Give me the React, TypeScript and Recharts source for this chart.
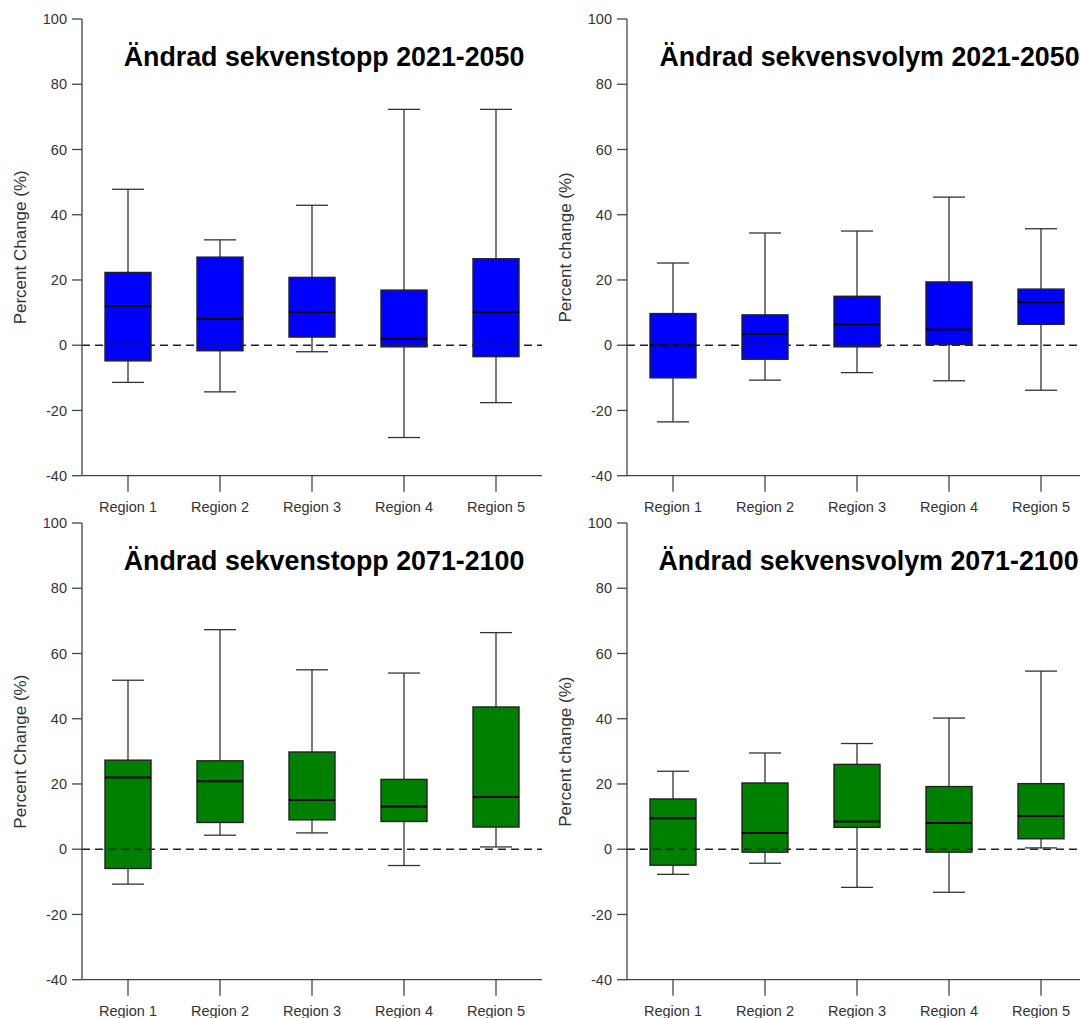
import React from "react";
import { ComposedChart, Bar, XAxis, YAxis, ReferenceLine } from "recharts";

const regions = ["Region 1", "Region 2", "Region 3", "Region 4", "Region 5"];
const yTicks = [-40, -20, 0, 20, 40, 60, 80, 100];

// Ändrad sekvenstopp 2021-2050
const topp2050Min = [-11.4, -14.3, -2.0, -28.3, -17.6];
const topp2050Q1 = [-4.8, -1.7, 2.5, -0.5, -3.5];
const topp2050Med = [12.0, 8.0, 10.2, 2.0, 10.2];
const topp2050Q3 = [22.3, 27.0, 20.8, 16.9, 26.5];
const topp2050Max = [47.8, 32.3, 42.9, 72.3, 72.3];

// Ändrad sekvensvolym 2021-2050
const volym2050Min = [-23.5, -10.7, -8.4, -10.9, -13.8];
const volym2050Q1 = [-10.0, -4.3, -0.5, 0.2, 6.4];
const volym2050Med = [0.0, 3.4, 6.4, 4.8, 13.2];
const volym2050Q3 = [9.7, 9.3, 15.0, 19.4, 17.2];
const volym2050Max = [25.2, 34.4, 35.0, 45.4, 35.7];

// Ändrad sekvenstopp 2071-2100
const topp2100Min = [-10.7, 4.3, 5.0, -5.0, 0.7];
const topp2100Q1 = [-5.9, 8.2, 9.0, 8.5, 6.8];
const topp2100Med = [22.0, 20.8, 15.1, 13.1, 16.0];
const topp2100Q3 = [27.3, 27.1, 29.8, 21.4, 43.6];
const topp2100Max = [51.8, 67.3, 55.0, 54.0, 66.4];

// Ändrad sekvensvolym 2071-2100
const volym2100Min = [-7.7, -4.3, -11.7, -13.2, 0.4];
const volym2100Q1 = [-4.9, -0.9, 6.7, -0.9, 3.2];
const volym2100Med = [9.5, 5.0, 8.5, 8.0, 10.2];
const volym2100Q3 = [15.4, 20.3, 26.0, 19.2, 20.1];
const volym2100Max = [23.9, 29.5, 32.4, 40.2, 54.6];

type Row = { region: string; min: number; q1: number; med: number; q3: number; max: number };

function rows(min: number[], q1: number[], med: number[], q3: number[], max: number[]): Row[] {
  return regions.map((region, i) => ({ region, min: min[i], q1: q1[i], med: med[i], q3: q3[i], max: max[i] }));
}

// box + whiskers drawn inside the min..max range bar
const BoxShape = (props: any) => {
  const { x, y, width, height, payload, fill } = props;
  if (!payload) return null;
  const span = payload.max - payload.min;
  const top = Math.min(y, y + height);
  const h = Math.abs(height);
  const py = (v: number) => top + ((payload.max - v) / span) * h;
  const cx = x + width / 2;
  const cap = 16;
  return (
    <g>
      <line x1={cx} x2={cx} y1={py(payload.max)} y2={py(payload.q3)} stroke="#333" strokeWidth={1.3} />
      <line x1={cx} x2={cx} y1={py(payload.q1)} y2={py(payload.min)} stroke="#333" strokeWidth={1.3} />
      <line x1={cx - cap} x2={cx + cap} y1={py(payload.max)} y2={py(payload.max)} stroke="#333" strokeWidth={1.3} />
      <line x1={cx - cap} x2={cx + cap} y1={py(payload.min)} y2={py(payload.min)} stroke="#333" strokeWidth={1.3} />
      <rect x={x} y={py(payload.q3)} width={width} height={py(payload.q1) - py(payload.q3)} fill={fill} stroke="#222" strokeWidth={1.4} />
      <line x1={x} x2={x + width} y1={py(payload.med)} y2={py(payload.med)} stroke="#000" strokeWidth={2} />
    </g>
  );
};

const axisColor = "#444";
const textColor = "#333";
const sans = "Liberation Sans, Arial, sans-serif";

function Panel({ data, fill, left, top }: { data: Row[]; fill: string; left: number; top: number }) {
  return (
    <div style={{ position: "absolute", left, top }}>
      <ComposedChart width={545} height={520} data={data} margin={{ top: 19, right: 3, bottom: 0, left: 0 }}>
        <XAxis
          dataKey="region"
          height={44.3}
          interval={0}
          tickSize={16}
          tickMargin={10}
          axisLine={{ stroke: axisColor, strokeWidth: 1.3 }}
          tickLine={{ stroke: axisColor, strokeWidth: 1.3 }}
          tick={{ fill: textColor, fontSize: 14.5, fontFamily: sans }}
        />
        <YAxis
          type="number"
          domain={[-40, 100]}
          ticks={yTicks}
          width={82}
          tickSize={10}
          tickMargin={5}
          axisLine={{ stroke: axisColor, strokeWidth: 1.3 }}
          tickLine={{ stroke: axisColor, strokeWidth: 1.3 }}
          tick={{ fill: textColor, fontSize: 14.5, fontFamily: sans }}
        />
        <Bar
          dataKey={(d: Row) => [d.min, d.max]}
          barSize={46}
          fill={fill}
          shape={<BoxShape fill={fill} />}
          isAnimationActive={false}
        />
        <ReferenceLine y={0} stroke="#222" strokeWidth={1.4} strokeDasharray="8 5" />
      </ComposedChart>
    </div>
  );
}

const titleFont = { fontFamily: sans, fontWeight: 700, fontSize: 26.8, fill: "#000" };
const labelFont = { fontFamily: sans, fontSize: 17, fill: "#333" };

export default function App() {
  const tx = 544.5;
  const ty = 504.3;
  const midY = 19 + 456.7 / 2;
  return (
    <div style={{ position: "absolute", left: 0, top: 0, width: 1080, height: 1018, overflow: "hidden", background: "#fff" }}>
      <Panel data={rows(topp2050Min, topp2050Q1, topp2050Med, topp2050Q3, topp2050Max)} fill="#0000FF" left={0} top={0} />
      <Panel data={rows(volym2050Min, volym2050Q1, volym2050Med, volym2050Q3, volym2050Max)} fill="#0000FF" left={tx} top={0} />
      <Panel data={rows(topp2100Min, topp2100Q1, topp2100Med, topp2100Q3, topp2100Max)} fill="#008000" left={0} top={ty} />
      <Panel data={rows(volym2100Min, volym2100Q1, volym2100Med, volym2100Q3, volym2100Max)} fill="#008000" left={tx} top={ty} />
      <svg width={1080} height={1018} style={{ position: "absolute", left: 0, top: 0, pointerEvents: "none" }}>
        <text x={324} y={66} textAnchor="middle" style={titleFont}>Ändrad sekvenstopp 2021-2050</text>
        <text x={324 + tx + 1} y={66} textAnchor="middle" style={titleFont}>Ändrad sekvensvolym 2021-2050</text>
        <text x={324} y={66 + ty} textAnchor="middle" style={titleFont}>Ändrad sekvenstopp 2071-2100</text>
        <text x={324 + tx} y={66 + ty} textAnchor="middle" style={titleFont}>Ändrad sekvensvolym 2071-2100</text>
        <text x={21} y={midY} textAnchor="middle" dominantBaseline="central" transform={`rotate(-90 21 ${midY})`} style={labelFont}>Percent Change (%)</text>
        <text x={21 + tx} y={midY} textAnchor="middle" dominantBaseline="central" transform={`rotate(-90 ${21 + tx} ${midY})`} style={labelFont}>Percent change (%)</text>
        <text x={21} y={midY + ty} textAnchor="middle" dominantBaseline="central" transform={`rotate(-90 21 ${midY + ty})`} style={labelFont}>Percent Change (%)</text>
        <text x={21 + tx} y={midY + ty} textAnchor="middle" dominantBaseline="central" transform={`rotate(-90 ${21 + tx} ${midY + ty})`} style={labelFont}>Percent change (%)</text>
      </svg>
    </div>
  );
}
